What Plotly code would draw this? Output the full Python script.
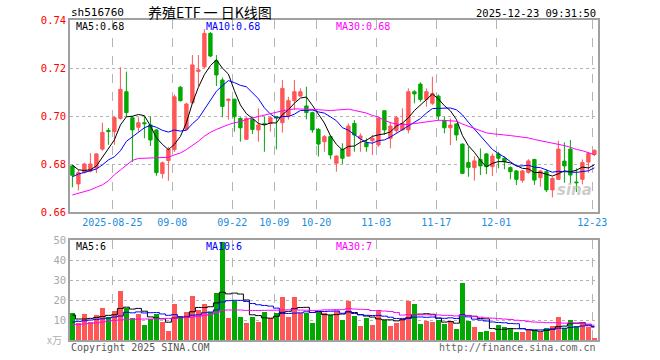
import plotly.graph_objects as go
import pandas as pd

# ---------------- data ----------------
dates = ["08-14","08-15","08-18","08-19","08-20","08-21","08-22","08-25","08-26","08-27","08-28","08-29",
         "09-01","09-02","09-03","09-04","09-05","09-08","09-09","09-10","09-11","09-12",
         "09-15","09-16","09-17","09-18","09-19","09-22","09-23","09-24","09-25","09-26","09-29","09-30",
         "10-09","10-10","10-13","10-14","10-15","10-16","10-17","10-20","10-21","10-22","10-23","10-24",
         "10-27","10-28","10-29","10-30","10-31",
         "11-03","11-04","11-05","11-06","11-07","11-10","11-11","11-12","11-13","11-14",
         "11-17","11-18","11-19","11-20","11-21","11-24","11-25","11-26","11-27","11-28",
         "12-01","12-02","12-03","12-04","12-05","12-08","12-09","12-10","12-11","12-12",
         "12-15","12-16","12-17","12-18","12-19","12-22","12-23"]

opens = [0.6792,0.6717,0.6765,0.6770,0.6783,0.6862,0.6940,0.6935,0.6990,0.7101,
         0.6993,0.6953,0.6972,0.6963,0.6942,0.6760,0.6814,0.6860,0.7120,0.6945,
         0.7055,0.7186,0.7205,0.7344,0.7230,0.7150,0.7065,0.7070,0.6990,0.6903,
         0.6986,0.6942,0.6968,0.6970,0.6998,0.6972,0.7000,0.7064,0.7083,0.7042,
         0.7014,0.6944,0.6893,0.6914,0.6803,0.6861,0.6833,0.6969,0.6907,0.6889,
         0.6897,0.6879,0.7022,0.6907,0.6939,0.6942,0.6942,0.7101,0.7133,0.7069,
         0.7053,0.7083,0.6981,0.6951,0.6967,0.6883,0.6806,0.6785,0.6819,0.6842,
         0.6789,0.6842,0.6824,0.6785,0.6771,0.6732,0.6765,0.6819,0.6743,0.6768,
         0.6692,0.6736,0.6812,0.6862,0.6725,0.6736,0.6808,0.6840]
closes = [0.6753,0.6764,0.6800,0.6800,0.6842,0.6932,0.6935,0.6993,0.7111,0.7014,
          0.6942,0.6972,0.6968,0.6900,0.6764,0.6805,0.6861,0.7080,0.7064,0.7050,
          0.7213,0.7192,0.7344,0.7250,0.7171,0.7040,0.7070,0.6997,0.6951,0.6990,
          0.6944,0.6962,0.6965,0.6993,0.6993,0.7115,0.7064,0.7101,0.7101,0.7014,
          0.6942,0.6883,0.6914,0.6838,0.6833,0.6824,0.6958,0.6921,0.6917,0.6872,
          0.6907,0.6990,0.6942,0.6958,0.6993,0.6969,0.7101,0.7092,0.7069,0.7101,
          0.7094,0.7000,0.6951,0.6962,0.6921,0.6761,0.6786,0.6813,0.6792,0.6789,
          0.6833,0.6824,0.6810,0.6768,0.6736,0.6771,0.6813,0.6733,0.6771,0.6692,
          0.6740,0.6862,0.6792,0.6754,0.6722,0.6806,0.6844,0.6857]
highs = [0.6796,0.6775,0.6805,0.6845,0.6845,0.6972,0.6950,0.7000,0.7203,0.7185,
         0.7000,0.6995,0.6998,0.6998,0.6945,0.6810,0.6872,0.7090,0.7125,0.7055,
         0.7254,0.7254,0.7362,0.7350,0.7254,0.7160,0.7072,0.7072,0.6995,0.6995,
         0.6995,0.7032,0.6997,0.6998,0.7000,0.7150,0.7080,0.7150,0.7115,0.7122,
         0.7018,0.6950,0.6921,0.6920,0.6836,0.6886,0.6969,0.6983,0.6928,0.6907,
         0.6921,0.6995,0.7025,0.6976,0.7000,0.7032,0.7115,0.7108,0.7140,0.7115,
         0.7164,0.7090,0.6997,0.6990,0.6970,0.6886,0.6872,0.6833,0.6865,0.6845,
         0.6844,0.6851,0.6831,0.6790,0.6775,0.6775,0.6820,0.6822,0.6775,0.6778,
         0.6745,0.6897,0.6890,0.6900,0.6782,0.6819,0.6850,0.6861]
lows = [0.6703,0.6690,0.6760,0.6765,0.6762,0.6855,0.6880,0.6880,0.6985,0.6997,
        0.6808,0.6935,0.6907,0.6875,0.6751,0.6740,0.6730,0.6850,0.7060,0.6940,
        0.7050,0.7125,0.7200,0.7245,0.7125,0.6995,0.6985,0.6935,0.6893,0.6900,
        0.6925,0.6893,0.6851,0.6935,0.6861,0.6931,0.6985,0.7025,0.7080,0.6986,
        0.6930,0.6831,0.6851,0.6820,0.6768,0.6800,0.6830,0.6851,0.6851,0.6851,
        0.6837,0.6872,0.6921,0.6865,0.6930,0.6940,0.6928,0.7053,0.7060,0.7039,
        0.7046,0.6983,0.6928,0.6879,0.6897,0.6758,0.6747,0.6731,0.6754,0.6758,
        0.6750,0.6782,0.6778,0.6736,0.6712,0.6722,0.6760,0.6713,0.6706,0.6683,
        0.6661,0.6733,0.6722,0.6718,0.6683,0.6715,0.6764,0.6833]
volumes = [13.7,8.3,13.0,8.8,12.5,16.0,11.3,14.5,24.5,15.8,
           11.2,13.0,7.5,10.3,13.0,9.2,4.5,18.0,12.0,14.0,
           22.2,15.2,17.8,14.0,23.5,48.8,11.2,19.7,11.7,8.7,
           11.7,9.2,14.2,10.8,13.3,21.7,11.7,21.3,13.3,13.7,
           8.7,14.2,13.7,12.3,14.7,10.0,19.7,12.0,7.0,11.2,
           7.5,15.0,9.8,7.0,8.5,10.3,19.7,18.0,8.2,9.5,
           8.9,10.0,8.2,9.5,5.4,28.5,9.5,6.5,4.0,4.5,
           4.0,7.5,6.7,6.0,4.0,4.0,5.0,5.0,3.8,6.0,
           7.0,11.7,6.2,10.0,7.0,8.3,6.3,0.8]

# moving-average values for days whose window starts before the first shown day
ma5_lead = [0.6795,0.6776,0.6773,0.6776]
ma10_lead = [0.6747,0.6758,0.6765,0.6772,0.6779,0.6796,0.6817,0.6830,0.6855]
ma30_lead = [0.6671,0.6678,0.6685,0.6692,0.6703,0.6713,0.6730,0.6755,0.6775,0.6795,
             0.6815,0.6823,0.6824,0.6824,0.6825,0.6826,0.6828,0.6838,0.6846,0.6860,
             0.6877,0.6895,0.6916,0.6932,0.6944,0.6955,0.6964,0.6972,0.6977]
vma5_lead = [12.5,10.5,10.5,10.8]
vma10_lead = [9.0,9.3,9.6,10.0,10.3,10.6,11.0,11.5,12.0]
vma30_lead = [7.5,7.8,8.0,8.3,8.6,9.0,9.4,9.8,10.0,10.2,10.3,10.4,10.5,10.5,10.6,
              10.7,10.8,10.9,11.0,11.2,11.4,11.8,12.3,12.8,13.8,14.8,15.0,15.0,15.0]

tick_dates = ["08-25","09-08","09-22","10-09","10-20","11-03","11-17","12-01","12-23"]
tick_labels = ["2025-08-25","09-08","09-22","10-09","10-20","11-03","11-17","12-01","12-23"]

code = "sh516760"
title = "养殖ETF 一 日K线图"
stamp = "2025-12-23 09:31:50"

# ---------------- derived ----------------
def moving(vals, n, lead):
    s = pd.Series(vals).rolling(n).mean().tolist()
    s[:len(lead)] = lead
    return s

ma5 = moving(closes, 5, ma5_lead)
ma10 = moving(closes, 10, ma10_lead)
ma30 = moving(closes, 30, ma30_lead)
vma5 = moving(volumes, 5, vma5_lead)
vma10 = moving(volumes, 10, vma10_lead)
vma30 = moving(volumes, 30, vma30_lead)

idx = list(range(len(dates)))
RED = "#ff5656"
GREEN = "#00a800"
vol_colors = [RED if c >= o else GREEN for o, c in zip(opens, closes)]
tickvals = [dates.index(d) - 0.35 for d in tick_dates]

MONO = "DejaVu Sans Mono, Liberation Mono, monospace"

fig = go.Figure()
fig.add_trace(go.Candlestick(
    x=idx, open=opens, high=highs, low=lows, close=closes,
    increasing=dict(line=dict(color=RED, width=1), fillcolor=RED),
    decreasing=dict(line=dict(color=GREEN, width=1), fillcolor=GREEN),
    whiskerwidth=0, xaxis="x", yaxis="y", hoverinfo="skip"))
for vals, col in [(ma5, "#000000"), (ma10, "#0000ff"), (ma30, "#ff00ff")]:
    fig.add_trace(go.Scatter(x=idx, y=vals, mode="lines", line=dict(color=col, width=1),
                             xaxis="x", yaxis="y", hoverinfo="skip"))
fig.add_trace(go.Bar(x=idx, y=volumes, marker=dict(color=vol_colors, line=dict(width=0)),
                     width=0.8, xaxis="x2", yaxis="y2", hoverinfo="skip"))
for vals, col in [(vma5, "#000000"), (vma10, "#0000ff"), (vma30, "#ff00ff")]:
    fig.add_trace(go.Scatter(x=idx, y=vals, mode="lines", line=dict(color=col, width=1, shape="hvh"),
                             xaxis="x2", yaxis="y2", hoverinfo="skip"))

L, R, T, B = 70, 598, 20, 340
def px(x):
    return (x - L) / (R - L)
def py(y):
    return (B - y) / (B - T)

ann = []
def text(s, x, y, color, size=10, xanchor="left", family=MONO):
    ann.append(dict(text=s, x=px(x), y=py(y), xref="paper", yref="paper", showarrow=False,
                    xanchor=xanchor, yanchor="middle", font=dict(family=family, size=size, color=color)))

text(code, 69, 13, "#000000", size=11)
text(title, 210, 12, "#000000", size=14, xanchor="center",
     family="Noto Sans CJK SC, DejaVu Sans Mono, monospace")
text(stamp, 598, 13, "#000000", size=10.5, xanchor="right")
text("MA5:%.2f" % ma5[-1], 74, 26, "#000000")
text("MA10:%.2f" % ma10[-1], 204, 26, "#0000ff")
text("MA30:%.2f" % ma30[-1], 334, 26, "#ff00ff")
text("MA5:%d" % int(vma5[-1]), 74, 246, "#000000")
text("MA10:%d" % int(vma10[-1]), 204, 246, "#0000ff")
text("MA30:%d" % int(vma30[-1]), 334, 246, "#ff00ff")
text("x万", 64, 339, "#b0b0b0", size=10, xanchor="right",
     family="Noto Sans CJK SC, DejaVu Sans, sans-serif")
text("Copyright 2025 SINA.COM", 69, 347, "#555555", size=10)
text("http://finance.sina.com.cn", 598, 347, "#666666", size=10, xanchor="right")
text("<b><i>sina</i></b>", 574, 190, "rgba(190,190,190,0.8)", size=15, xanchor="center",
     family="DejaVu Sans, sans-serif")

axis_common = dict(showline=True, linecolor="#a0a0a0", linewidth=1.5, mirror=True,
                   zeroline=False, ticks="", showgrid=True, gridcolor="#b4b4b4", gridwidth=1)

fig.update_layout(
    width=660, height=360, autosize=False,
    margin=dict(l=L, r=660 - R, t=T, b=360 - B),
    paper_bgcolor="white", plot_bgcolor="white",
    showlegend=False, boxgap=0.2, bargap=0,
    annotations=ann,
    xaxis=dict(domain=[0, 1], range=[-0.4, 87.6], anchor="y",
               tickvals=tickvals, ticktext=tick_labels, griddash="dash",
               tickfont=dict(family=MONO, size=10, color="#1a8ce0"),
               rangeslider=dict(visible=False), **axis_common),
    xaxis2=dict(domain=[0, 1], range=[-0.4, 87.6], anchor="y2", matches="x",
                tickvals=tickvals, showticklabels=False, griddash="dash", **axis_common),
    yaxis=dict(domain=[0.4, 1], range=[0.66, 0.74], anchor="x",
               tickvals=[0.66, 0.68, 0.70, 0.72, 0.74],
               ticktext=["0.66", "0.68", "0.70", "0.72", "0.74"], griddash="dot",
               tickfont=dict(family=MONO, size=10.5, color="#ff0000"), **axis_common),
    yaxis2=dict(domain=[0, 0.3125], range=[0, 50], anchor="x2",
                tickvals=[10, 20, 30, 40, 50], griddash="dot",
                tickfont=dict(family=MONO, size=10.5, color="#a8a8a8"), **axis_common),
)

fig.write_html("out.html", config={"displayModeBar": False},
               post_script="document.body.style.margin='0';document.body.style.padding='0';")
